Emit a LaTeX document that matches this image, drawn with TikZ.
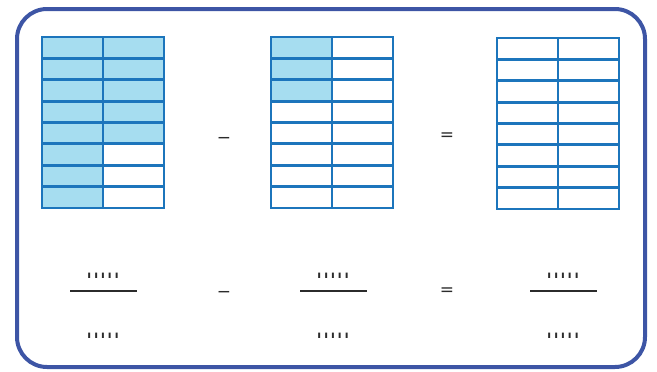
\documentclass[tikz,border=0pt]{standalone}
\usepackage{fontspec}
\setmainfont{DejaVu Sans}
\definecolor{framecol}{HTML}{3D55A5}
\definecolor{gridcol}{HTML}{1C75BC}
\definecolor{shadecol}{HTML}{A6DDF0}
\definecolor{inkcol}{HTML}{2B2B2B}
\newcommand\gapdots{\scalebox{0.75}[1.9]{.\kern3.4pt.\kern3.4pt.\kern3.4pt.\kern3.4pt.}}
\newcommand\drawgrid[4]{%
  \ifnum#3>0 \fill[shadecol] (#1,#2) rectangle ++(61,21.375*#3);\fi
  \ifnum#4>0 \fill[shadecol] (#1+61,#2) rectangle ++(61,21.375*#4);\fi
  \draw[gridstyle] (#1,#2) rectangle ++(122,171);
  \foreach \i in {1,...,7}{\draw[gridstyle] (#1,#2+21.375*\i) -- ++(122,0);}
  \draw[gridstyle] (#1+61,#2) -- ++(0,171);
}
\tikzset{
  gridstyle/.style={draw=gridcol, line width=2.8pt},
  opsign/.style={text=inkcol, font=\fontsize{17}{17}\selectfont, inner sep=0pt},
  dotstyle/.style={text=inkcol, font=\bfseries\fontsize{15}{15}\selectfont, inner sep=0pt},
  barstyle/.style={draw=inkcol, line width=1.8pt},
}
\begin{document}
\begin{tikzpicture}[x=1pt,y=-1pt]
\useasboundingbox (0,0) rectangle (657,372);
\draw[framecol, line width=4pt, rounded corners=30pt] (17,9) rectangle (645,367);
\drawgrid{42}{37}{8}{5}
\drawgrid{271}{37}{3}{0}
\drawgrid{497}{38}{0}{0}
\node[opsign] (m1) at (224,140) {−};
\node[opsign] (e1) at (447,137) {=};
\node[opsign] (m2) at (224,294) {−};
\node[opsign] (e2) at (447,292) {=};
\foreach \n/\cx in {a/103,b/333,c/563}{
  \node[dotstyle] (\n num) at (\cx,276) {\gapdots};
  \coordinate (\n l) at (\cx-33,291);
  \coordinate (\n r) at (\cx+34,291);
  \draw[barstyle] (\n l) -- (\n r);
  \node[dotstyle] (\n den) at (\cx,336) {\gapdots};
}
\end{tikzpicture}
\end{document}
